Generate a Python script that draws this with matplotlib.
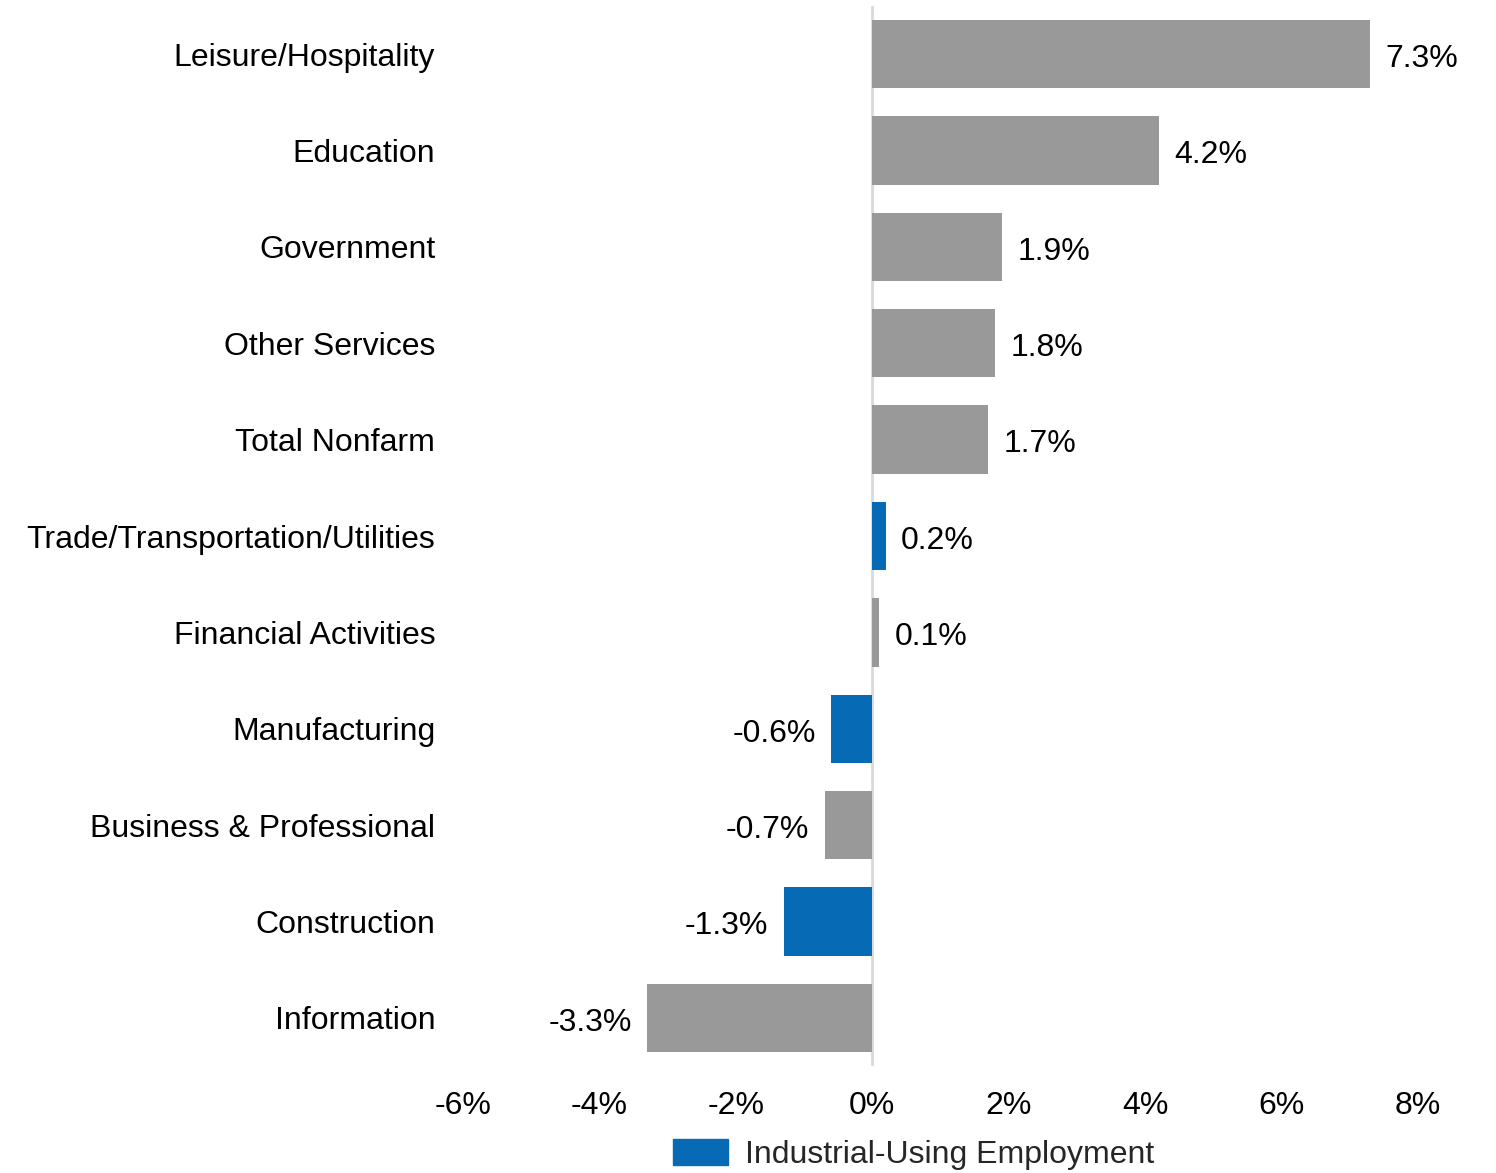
import matplotlib.pyplot as plt
from matplotlib.patches import Patch
from matplotlib.ticker import FuncFormatter

plt.rcParams['font.family'] = ['Liberation Sans', 'DejaVu Sans']

# employment change by sector, top to bottom
sectors = ['Leisure/Hospitality', 'Education', 'Government', 'Other Services',
           'Total Nonfarm', 'Trade/Transportation/Utilities', 'Financial Activities',
           'Manufacturing', 'Business & Professional', 'Construction', 'Information']
changes = [7.3, 4.2, 1.9, 1.8, 1.7, 0.2, 0.1, -0.6, -0.7, -1.3, -3.3]
industrial = ['Trade/Transportation/Utilities', 'Manufacturing', 'Construction']
xticks = [-6, -4, -2, 0, 2, 4, 6, 8]

GRAY = '#999999'
BLUE = '#066BB4'
FS = 23

fig = plt.figure(figsize=(14.96, 11.73), dpi=100)
ax = fig.add_axes([0.3095, 0.0912, 0.6384, 0.9037])

ypos = list(range(len(sectors)))
colors = [BLUE if s in industrial else GRAY for s in sectors]
ax.barh(ypos, changes, height=0.71, color=colors, zorder=2)
ax.axvline(0, color='#d9d9d9', linewidth=2, zorder=1)

# value labels just past the bar ends
for y, v in zip(ypos, changes):
    off = 11 if v >= 0 else -11
    ax.annotate(f'{v:.1f}%', (v, y), xytext=(off, -3.5), textcoords='offset points',
                ha='left' if v >= 0 else 'right', va='center', fontsize=FS)

ax.set_xlim(-6, 8)
ax.set_ylim(len(sectors) - 0.5, -0.5)
ax.set_xticks(xticks)
ax.xaxis.set_major_formatter(FuncFormatter(lambda x, p: f'{x:.0f}%'))
ax.set_yticks(ypos)
ax.set_yticklabels(sectors)
ax.tick_params(axis='both', length=0, labelsize=FS)
ax.tick_params(axis='x', pad=18)
ax.tick_params(axis='y', pad=20)
for sp in ax.spines.values():
    sp.set_visible(False)

fig.legend(handles=[Patch(color=BLUE, label='Industrial-Using Employment')],
           loc='center', bbox_to_anchor=(0.611, 0.016), frameon=False,
           fontsize=FS, handlelength=1.72, handleheight=0.88, handletextpad=0.53,
           borderpad=0, labelcolor='#262626')

fig.savefig('out.png', dpi=100)
